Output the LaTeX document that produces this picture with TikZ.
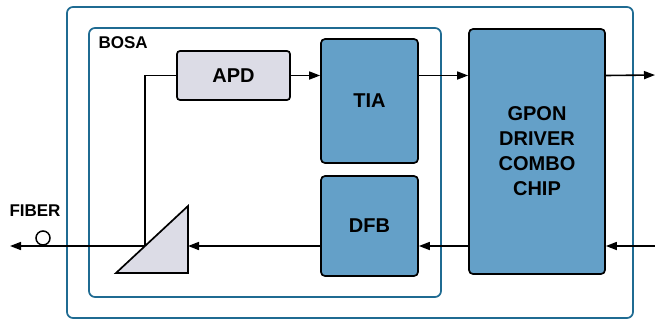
\documentclass[tikz,border=0pt]{standalone}
\usepackage{fontspec}
\setmainfont{Liberation Sans}
\usetikzlibrary{arrows.meta, positioning}
\definecolor{frameteal}{HTML}{1F6B92}
\definecolor{chipblue}{HTML}{64A0C8}
\definecolor{optgray}{HTML}{DCDCE6}
\tikzset{
	frame/.style={draw=frameteal, line width=1.7pt, rounded corners=6pt},
	chip/.style={draw=black, line width=1.7pt, fill=chipblue, rounded corners=4pt, font=\fontsize{20}{25}\selectfont\bfseries, align=center, inner sep=0pt},
	optic/.style={draw=black, line width=1.7pt, fill=optgray, rounded corners=3pt, font=\fontsize{20}{24}\selectfont\bfseries, inner sep=0pt},
	wire/.style={draw=black, line width=1.6pt},
	sig/.style={wire, -{Triangle[length=11pt,width=8pt]}}
}
\begin{document}
\begin{tikzpicture}[x=1pt, y=-1pt]
		\useasboundingbox (0,0) rectangle (655,322);
			% frames
			\draw[frame] (67,7) rectangle (633,318);
			\draw[frame] (89,28) rectangle (441,297);
			\node[font=\fontsize{17}{20}\selectfont\bfseries, anchor=west] (bosa) at (95,43) {BOSA};

			% blocks
			\node[optic, minimum width=113pt, minimum height=49pt] (apd) at (233.5,75.5) {APD};
			\node[chip, minimum width=97pt, minimum height=124pt] (tia) at (369.5,101) {TIA};
			\node[chip, minimum width=97pt, minimum height=100pt] (dfb) at (369.5,226) {DFB};
			\node[chip, minimum width=136pt, minimum height=245pt] (gpon) at (537,151.5) {GPON\\DRIVER\\COMBO\\CHIP};

			% prism
			\coordinate (pa) at (116,273);
			\coordinate (pb) at (188,206);
			\coordinate (pc) at (188,273);
			\coordinate (split) at (145,246);
			\filldraw[fill=optgray, draw=black, line width=1.7pt, line join=miter] (pa) -- (pb) -- (pc) -- cycle;

			% fiber
			\coordinate (outL) at (10,246);
			\coordinate (outR) at (655,75);
			\coordinate (inR) at (655,246);
			\node[draw=black, line width=1.5pt, fill=white, circle, minimum size=14pt, inner sep=0pt] (port) at (43,238) {};
			\node[font=\fontsize{17}{20}\selectfont\bfseries] (fiber) at (35,211) {FIBER};

			% receive path
			\draw[wire] (split) -- (split |- apd.west) -- (apd.west);
			\draw[sig] (apd.east) -- (apd.east -| tia.west);
			\draw[sig] (tia.east |- apd.east) -- (gpon.west |- apd.east);
			\draw[sig] (gpon.east |- apd.east) -- (outR);

			% transmit path
			\draw[sig] (inR) -- (gpon.east |- inR);
			\draw[sig] (gpon.west |- inR) -- (dfb.east |- inR);
			\draw[sig] (dfb.west |- inR) -- (pc |- inR);
			\draw[sig] (split) -- (outL);
\end{tikzpicture}
\end{document}
